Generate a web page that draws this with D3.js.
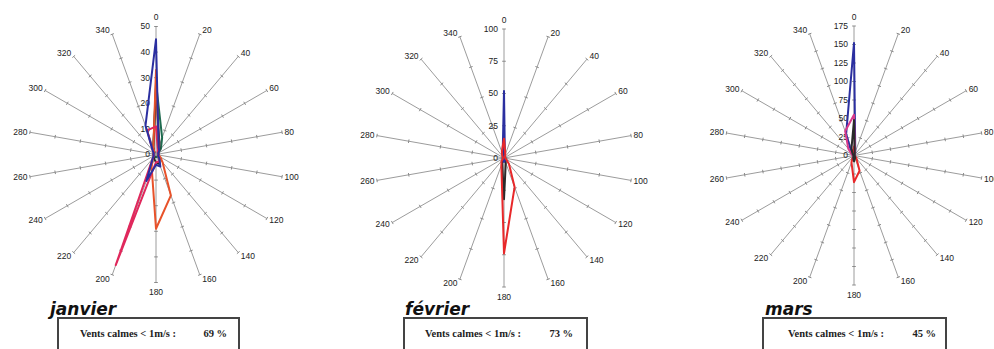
<!DOCTYPE html>
<html><head><meta charset="utf-8">
<script src="https://cdn.jsdelivr.net/npm/d3@7"></script>
<style>body{margin:0;background:#fff}</style></head>
<body><svg id="c" width="994" height="349"></svg>
<script>
// ---- data ----
const directions = [0,20,40,60,80,100,120,140,160,180,200,220,240,260,280,300,320,340];

const janvierTicks = [0,10,20,30,40,50];
const fevrierTicks = [0,25,50,75,100];
const marsTicks = [0,25,50,75,100,125,150,175];

const janvierGreen   = [28, 7, 3, 1, 1, 1, 1, 1, 1, 1, 1, 1, 1, 1, 1, 1, 1, 3];
const janvierBlack   = [26, 4, 2, 1, 1, 1, 1, 2, 4, 3, 2, 1, 1, 1, 1, 1, 1, 3];
const janvierOrange  = [33, 3, 2, 1, 1, 1, 2, 4, 17, 29, 5, 2, 1, 1, 1, 1, 1, 3];
const janvierCrimson = [11, 2, 1, 1, 1, 1, 1, 2, 3, 3, 46, 2, 1, 1, 1, 1, 2, 10];
const janvierBlue    = [45, 3, 2, 1, 1, 1, 1, 2, 5, 4, 11, 2, 1, 1, 1, 1, 2, 12];

const fevrierBlack = [10, 2, 1, 1, 1, 1, 1, 2, 4, 32, 4, 1, 1, 1, 1, 1, 1, 3];
const fevrierBlue  = [52, 2, 1, 1, 1, 1, 1, 1, 2, 3, 2, 1, 1, 1, 1, 1, 1, 3];
const fevrierRed   = [15, 3, 1, 1, 1, 1, 2, 6, 24, 74, 6, 3, 1, 1, 1, 1, 2, 5];

const marsBlack   = [48, 3, 1, 1, 1, 1, 1, 2, 4, 8, 3, 1, 1, 1, 1, 1, 3, 10];
const marsRed     = [12, 3, 1, 1, 1, 1, 2, 5, 22, 36, 10, 3, 1, 1, 1, 1, 2, 5];
const marsBlue    = [152, 5, 2, 1, 1, 1, 1, 2, 3, 5, 3, 2, 1, 1, 1, 2, 5, 31];
const marsMagenta = [55, 4, 1, 1, 1, 1, 1, 2, 3, 5, 3, 2, 1, 1, 2, 4, 12, 35];

const monthNames = ["janvier", "février", "mars"];
const calmLabel = "Vents calmes < 1m/s :";
const calmValues = ["69 %", "73 %", "45 %"];

// ---- layout ----
const charts = [
  {name: monthNames[0], calm: calmValues[0], cx: 156, cy: 154.5, R: 128, ticks: janvierTicks,
   titleX: 50, boxX0: 58, boxX1: 239, textDx: 22, pctDx: 12,
   series: [[janvierGreen,"#1f6b4f"],[janvierBlack,"#2a2a2a"],[janvierOrange,"#e8522a"],[janvierCrimson,"#e0285c"],[janvierBlue,"#2b2fa0"]]},
  {name: monthNames[1], calm: calmValues[1], cx: 504, cy: 158, R: 129, ticks: fevrierTicks,
   titleX: 405, boxX0: 404, boxX1: 587, textDx: 21, pctDx: 14,
   series: [[fevrierBlack,"#2a2a2a"],[fevrierBlue,"#2b2fa0"],[fevrierRed,"#e8282a"]]},
  {name: monthNames[2], calm: calmValues[2], cx: 854, cy: 155.5, R: 129.5, ticks: marsTicks,
   titleX: 765, boxX0: 763, boxX1: 946, textDx: 25, pctDx: 10,
   series: [[marsRed,"#e8282a"],[marsBlue,"#2b2fa0"],[marsMagenta,"#d83a8a"],[marsBlack,"#2a2a2a"]]}
];

const svg = d3.select("#c");
const rad = d => d * Math.PI / 180;

charts.forEach(ch => {
  const g = svg.append("g").attr("transform", `translate(${ch.cx},${ch.cy})`);
  const maxV = ch.ticks[ch.ticks.length - 1];
  const r = d3.scaleLinear().domain([0, maxV]).range([0, ch.R]);

  // spokes
  directions.forEach(a => {
    const s = Math.sin(rad(a)), c = Math.cos(rad(a));
    g.append("line").attr("x1", 0).attr("y1", 0)
      .attr("x2", s * ch.R).attr("y2", -c * ch.R)
      .attr("stroke", "#9c9c9c").attr("stroke-width", 1);
    ch.ticks.slice(1).forEach(v => {
      const px = s * r(v), py = -c * r(v);
      g.append("line")
        .attr("x1", px - c * 1.8).attr("y1", py - s * 1.8)
        .attr("x2", px + c * 1.8).attr("y2", py + s * 1.8)
        .attr("stroke", "#8a8a8a").attr("stroke-width", 1);
    });
    const ex = s * ch.R, ey = -c * ch.R;
    let anchor = "middle", lx = ex, ly = ey;
    if (a === 0) { ly = ey - 9; }
    else if (a === 180) { ly = ey + 10; }
    else {
      anchor = s > 0 ? "start" : "end";
      lx = ex + (s > 0 ? 2.5 : -2.5);
      ly = ey - c * 4;
    }
    g.append("text").attr("x", lx).attr("y", ly).attr("dy", "0.35em")
      .attr("text-anchor", anchor)
      .attr("font-family", "Liberation Sans, Arial, sans-serif")
      .attr("font-size", 8.5).attr("fill", "#222").text(a);
  });

  // radial tick labels
  ch.ticks.forEach(v => {
    g.append("text").attr("x", -6).attr("y", -r(v)).attr("dy", "0.35em")
      .attr("text-anchor", "end")
      .attr("font-family", "Liberation Sans, Arial, sans-serif")
      .attr("font-size", 8.5).attr("fill", "#222").text(v);
  });

  // series
  const line = d3.lineRadial()
    .angle((d, i) => rad(directions[i]))
    .radius(d => r(d))
    .curve(d3.curveLinearClosed);
  ch.series.forEach(([vals, col]) => {
    g.append("path").attr("d", line(vals))
      .attr("fill", "none").attr("stroke", col)
      .attr("stroke-width", 2).attr("stroke-linejoin", "round");
  });

  // title + calm box
  svg.append("rect").attr("x", ch.boxX0).attr("y", 318)
    .attr("width", ch.boxX1 - ch.boxX0).attr("height", 45)
    .attr("fill", "none").attr("stroke", "#444").attr("stroke-width", 2);
  svg.append("text").attr("x", ch.titleX).attr("y", 315)
    .attr("font-family", "DejaVu Sans, sans-serif").attr("font-weight", "bold")
    .attr("font-style", "italic").attr("font-size", 17).attr("fill", "#111")
    .text(ch.name);
  svg.append("text").attr("x", ch.boxX0 + ch.textDx).attr("y", 337)
    .attr("font-family", "Liberation Serif, Times New Roman, serif").attr("font-weight", "bold")
    .attr("font-size", 10.5).attr("fill", "#222").text(calmLabel);
  svg.append("text").attr("x", ch.boxX1 - ch.pctDx).attr("y", 337)
    .attr("text-anchor", "end")
    .attr("font-family", "Liberation Serif, Times New Roman, serif").attr("font-weight", "bold")
    .attr("font-size", 10.5).attr("fill", "#222").text(ch.calm);
});
</script></body></html>
